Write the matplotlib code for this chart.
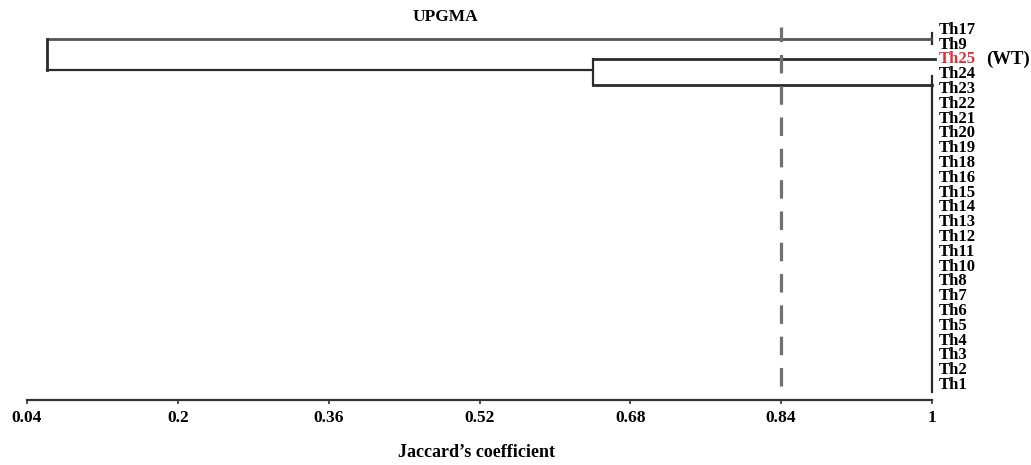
import matplotlib
matplotlib.use("Agg")
import matplotlib.pyplot as plt

# ---- data ----
leaves = ['Th1', 'Th2', 'Th3', 'Th4', 'Th5', 'Th6', 'Th7', 'Th8', 'Th10', 'Th11',
          'Th12', 'Th13', 'Th14', 'Th15', 'Th16', 'Th18', 'Th19', 'Th20', 'Th21',
          'Th22', 'Th23', 'Th24', 'Th25', 'Th9', 'Th17']      # bottom -> top
cluster_a = ['Th17', 'Th9']
cluster_b = ['Th24', 'Th23', 'Th22', 'Th21', 'Th20', 'Th19', 'Th18', 'Th16',
             'Th15', 'Th14', 'Th13', 'Th12', 'Th11', 'Th10', 'Th8', 'Th7',
             'Th6', 'Th5', 'Th4', 'Th3', 'Th2', 'Th1']
sim_a = 1.0        # Th17 + Th9
sim_b = 1.0        # Th24 ... Th1
sim_c = 0.64       # Th25 + cluster_b
sim_root = 0.061   # cluster_a + cluster_c
cutoff = 0.84
wt_leaf = 'Th25'
xticks = [0.04, 0.2, 0.36, 0.52, 0.68, 0.84, 1]
xticklabels = ['0.04', '0.2', '0.36', '0.52', '0.68', '0.84', '1']

# ---- style ----
plt.rcParams['font.family'] = ['Liberation Serif', 'DejaVu Serif']
plt.rcParams['font.weight'] = 'bold'

fig = plt.figure(figsize=(10.31, 4.65), dpi=100)
W, H = 1031, 465
ax = fig.add_axes([27 / W, (H - 400) / H, (932 - 27) / W, (400 - 15) / H])
ax.set_xlim(0.04, 1.0)
ax.set_ylim(-1.01, 25.0)

pos = {name: i for i, name in enumerate(leaves)}
lc = '#2a2a2a'
lw = 1.6

# layout (leaf units) of the drawn links
ya_line = pos['Th9'] + 0.4
yb_line = pos['Th24'] - 0.7
yc_line = pos['Th24'] + 0.3
y_wt = pos[wt_leaf]

# cluster a: vertical at leaves + horizontal to root
ax.plot([sim_a, sim_a], [pos['Th9'] + 0.05, pos['Th17'] - 0.2], color=lc, lw=lw, clip_on=False)
ax.plot([sim_root, sim_a], [ya_line, ya_line], color='#555555', lw=2.0, clip_on=False, solid_capstyle='butt')
# cluster b
ax.plot([sim_b, sim_b], [min(pos[n] for n in cluster_b) - 0.45, max(pos[n] for n in cluster_b) - 0.1],
        color=lc, lw=lw, clip_on=False)
ax.plot([sim_c, sim_b], [yb_line, yb_line], color=lc, lw=2.0, clip_on=False)
# Th25 branch
ax.plot([sim_c, sim_b + 0.003], [y_wt, y_wt], color=lc, lw=2.0, clip_on=False)
# node c vertical
ax.plot([sim_c, sim_c], [yb_line, y_wt], color=lc, lw=lw, clip_on=False)
# c to root
ax.plot([sim_root, sim_c], [yc_line, yc_line], color=lc, lw=lw, clip_on=False)
# root vertical
ax.plot([sim_root, sim_root], [yc_line, ya_line], color=lc, lw=2.0, clip_on=False)

# cutoff dashed line
ax.plot([cutoff, cutoff], [-0.05, pos['Th17'] + 0.2], color='#707070', lw=2.3,
        linestyle=(0, (5.8, 4.0)), zorder=5, clip_on=False)

# leaf labels
for name in leaves:
    color = '#e0303a' if name == wt_leaf else 'black'
    ax.text(1.0 + 0.0075, pos[name], name, color=color, fontsize=12, fontweight='bold',
            va='center', ha='left', clip_on=False)
ax.text(1.0 + 0.057, y_wt, '(WT)', color='black', fontsize=13.5, fontweight='bold',
        va='center', ha='left', clip_on=False)

# axes styling
for s in ['top', 'right', 'left']:
    ax.spines[s].set_visible(False)
ax.spines['bottom'].set_color('#333333')
ax.spines['bottom'].set_linewidth(1.6)
ax.set_yticks([])
ax.set_xticks(xticks)
ax.set_xticklabels(xticklabels, fontsize=12.5, fontweight='bold')
ax.tick_params(axis='x', direction='out', length=3, width=1.2, color='#333333', pad=4)

fig.text(445 / W, (H - 17) / H, 'UPGMA', fontsize=12.5, fontweight='bold', ha='center', va='center')
fig.text(477 / W, (H - 452) / H, 'Jaccard\u2019s coefficient', fontsize=13, fontweight='bold',
         ha='center', va='center')

fig.savefig('out.png', dpi=100, facecolor='white')
